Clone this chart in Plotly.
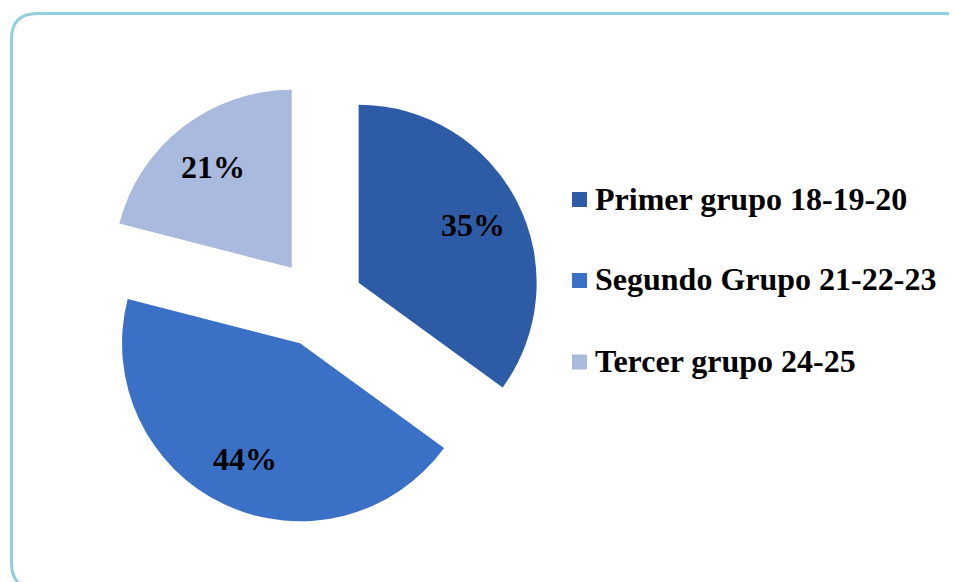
import math
import plotly.graph_objects as go

categories = ["Primer grupo 18-19-20", "Segundo Grupo 21-22-23", "Tercer grupo 24-25"]
values = [35, 44, 21]
colors = ["#2E5BA6", "#3A70C6", "#AAB9DE"]

# the page body has an 8px margin, so the figure is drawn 8px in
OFF = 8
W, H = 957 - OFF, 582 - OFF


def px(x):
    return (x - OFF) / W


def py(y):
    return 1 - (y - OFF) / H


PULL = 0.25
CX, CY, BOX = 319, 303, 445  # pie box (reference pixels)
R = BOX / (2 + 2 * PULL)

fig = go.Figure()
fig.add_trace(go.Pie(
    labels=categories,
    values=values,
    sort=False,
    direction="clockwise",
    rotation=0,
    pull=[PULL] * len(values),
    marker=dict(colors=colors, line=dict(width=0)),
    textinfo="none",
    domain=dict(x=[px(CX - BOX / 2), px(CX + BOX / 2)],
                y=[py(CY + BOX / 2), py(CY - BOX / 2)]),
    showlegend=False,
    hoverinfo="label+percent",
))

# percentage labels placed along each slice's mid-angle
total = sum(values)
cum = 0
for v in values:
    mid = (cum + v / 2) / total * 2 * math.pi
    cum += v
    d = (PULL + 0.72) * R
    lx = CX + d * math.sin(mid)
    ly = CY - d * math.cos(mid)
    fig.add_annotation(xref="paper", yref="paper", x=px(lx), y=py(ly),
                       xanchor="center", yanchor="middle", showarrow=False,
                       text=f"<b>{round(v / total * 100)}%</b>",
                       font=dict(family="Liberation Serif", size=32, color="black"))

# rounded frame
x0, y0, x1, y1, rr = 11.5, 13.5, 971, 589, 26
path = (
    f"M {px(x0)},{py(y0 + rr)} "
    f"Q {px(x0)},{py(y0)} {px(x0 + rr)},{py(y0)} "
    f"L {px(x1 - rr)},{py(y0)} "
    f"Q {px(x1)},{py(y0)} {px(x1)},{py(y0 + rr)} "
    f"L {px(x1)},{py(y1 - rr)} "
    f"Q {px(x1)},{py(y1)} {px(x1 - rr)},{py(y1)} "
    f"L {px(x0 + rr)},{py(y1)} "
    f"Q {px(x0)},{py(y1)} {px(x0)},{py(y1 - rr)} Z"
)
fig.add_shape(type="path", xref="paper", yref="paper", path=path,
              line=dict(color="#93CFDE", width=3), fillcolor="rgba(0,0,0,0)", layer="below")

# legend (manual, to reproduce wide row spacing)
row_y = [199.5, 280.5, 362]
for cat, col, yc in zip(categories, colors, row_y):
    fig.add_shape(type="rect", xref="paper", yref="paper",
                  x0=px(572), x1=px(587), y0=py(yc + 7.5), y1=py(yc - 7.5),
                  fillcolor=col, line=dict(width=0))
    fig.add_annotation(xref="paper", yref="paper", x=px(593), y=py(yc - 1),
                       xanchor="left", yanchor="middle", showarrow=False,
                       text=f"<b>{cat}</b>",
                       font=dict(family="Liberation Serif", size=32, color="black"))

fig.update_layout(
    width=W, height=H,
    margin=dict(l=0, r=0, t=0, b=0),
    paper_bgcolor="white",
    plot_bgcolor="white",
    showlegend=False,
)

fig.write_html("out.html")
